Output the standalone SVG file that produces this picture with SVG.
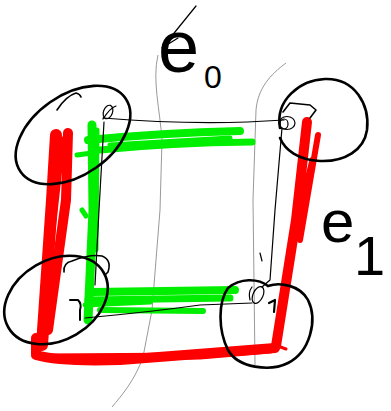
<svg xmlns="http://www.w3.org/2000/svg" width="391" height="411" viewBox="0 0 391 411">
<style>
.ink{fill:none;stroke:#000;stroke-linecap:round;stroke-linejoin:round}
.ring{fill:none;stroke:#000;stroke-width:2.6;stroke-linecap:round}
.thin{fill:none;stroke:#000;stroke-width:1.2;stroke-linecap:round;stroke-linejoin:round}
.gray{fill:none;stroke:#999;stroke-width:1}
.red{fill:none;stroke:#ff0000;stroke-linecap:round;stroke-linejoin:round}
.green{fill:none;stroke:#00ee00;stroke-linecap:round;stroke-linejoin:round}
.lbl{font-family:"Liberation Sans",Arial,sans-serif;fill:#000}
</style>
<rect width="391" height="411" fill="#fff"/>
<g id="guides">
<path class="gray" d="M158,55 C152,80 160,110 162,140 L160,210 L152,310 L143,357 C135,380 122,395 112,407"/>
<path class="gray" d="M286,63 C270,75 258,88 256,110 L253,200 L255,365"/>
</g>
<g id="connectors">
<path class="red" stroke-width="12" d="M56,135 L52,200 L42,345"/>
<path class="red" stroke-width="10" d="M68,133 L66,200 L48,330"/>
<path class="red" stroke-width="7" d="M62,140 L40,340"/>
<path class="red" stroke-width="10" d="M36,338 L36,355 Q60,362 120,360 L275,348"/>
<path class="red" stroke-width="7" d="M45,357 L200,356 L270,350"/>
<path class="red" stroke-width="10" d="M307,122 L296,220 L276,346"/>
<path class="red" stroke-width="6" d="M318,135 L300,240"/>
<path class="red" stroke-width="7" d="M313,160 L290,250"/>
<path class="red" stroke-width="3" d="M275,345 L286,349"/>
<path class="green" stroke-width="9" d="M92,125 L93,210 L88,320"/>
<path class="green" stroke-width="5" d="M97,130 L96,250"/>
<path class="green" stroke-width="5" d="M77,155 L92,153 M82,210 L86,216"/>
<path class="green" stroke-width="8" d="M88,140 Q160,133 240,131"/>
<path class="green" stroke-width="7" d="M100,150 Q170,143 252,142"/>
<path class="green" stroke-width="5" d="M110,145 L230,138"/>
<path class="green" stroke-width="8" d="M92,292 L235,290"/>
<path class="green" stroke-width="7" d="M88,300 L230,298"/>
<path class="green" stroke-width="6" d="M100,310 L203,311"/>
<path class="green" stroke-width="5" d="M85,305 L150,302"/>
<path class="thin" d="M103,118 Q200,126 284,120"/>
<path class="thin" d="M104,122 L99,210 L95,285"/>
<path class="thin" d="M85,318 Q150,312 200,305 L252,303"/>
<path class="thin" d="M282,128 L275,210 L270,280 L262,287"/>
<path class="thin" d="M260,253 L262,261"/>
</g>
<g id="node-top-left">
<ellipse class="ring" cx="73" cy="135" rx="64" ry="40" transform="rotate(-35 73 135)"/>
<path class="ink" stroke-width="1.6" d="M57,110 Q66,96 76,93 Q80,94 81,97"/>
<ellipse class="thin" cx="108" cy="112" rx="4.5" ry="7" transform="rotate(20 108 112)"/>
<path class="thin" d="M103,119 Q110,108 116,106"/>
</g>
<g id="node-top-right">
<path class="ring" d="M280,128 C275,100 300,80 325,79 C355,78 370,105 367,130 C364,150 345,162 320,161 C298,160 285,150 280,138"/>
<path class="ink" stroke-width="1.6" d="M283,112 L290,103 L310,105 L316,110 L310,118"/>
<ellipse class="thin" cx="287" cy="123" rx="8" ry="6.5"/>
<ellipse class="thin" cx="284" cy="124" rx="4" ry="5"/>
</g>
<g id="node-bottom-left">
<ellipse class="ring" cx="56" cy="300" rx="55" ry="40" transform="rotate(-30 56 300)"/>
<path class="ink" stroke-width="1.6" d="M64,272 Q63,263 72,261 Q90,254 102,256 Q112,260 108,272 L105,275"/>
<path class="ink" stroke-width="2" d="M70,300 L78,300 Q82,304 80,310 M80,310 L80,320"/>
</g>
<g id="node-bottom-right">
<path class="ring" d="M228,288 C240,278 258,278 268,286 C280,282 300,285 308,300 C318,320 310,352 288,363 C270,372 238,368 228,350 C218,330 218,302 228,288"/>
<ellipse class="thin" cx="258" cy="295" rx="5" ry="9" transform="rotate(25 258 295)"/>
<path class="thin" d="M250,300 Q248,292 252,287"/>
<path class="ink" stroke-width="2.2" d="M269,303 L275,300 L274,312"/>
</g>
<g id="labels">
<path class="thin" d="M196,6 L162,48 L178,38"/>
<text class="lbl" x="158" y="72" font-size="74">e</text>
<text class="lbl" x="204" y="88" font-size="32">0</text>
<text class="lbl" x="321" y="242" font-size="60">e</text>
<text class="lbl" x="354" y="275" font-size="56">1</text>
</g>
</svg>
